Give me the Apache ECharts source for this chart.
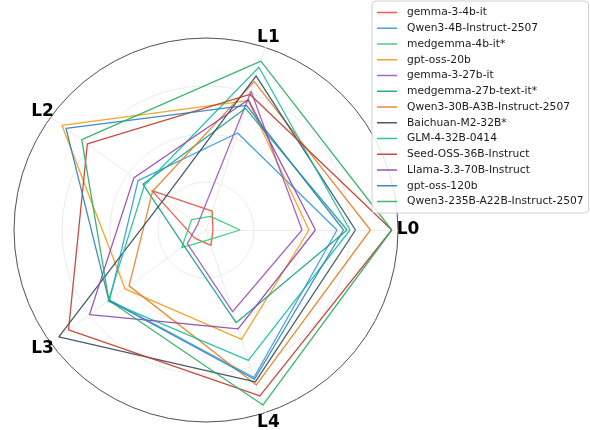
<!DOCTYPE html>
<html>
<head>
<meta charset="utf-8">
<script src="https://cdn.jsdelivr.net/npm/echarts@6/dist/echarts.min.js"></script>
<style>
  html, body { margin: 0; padding: 0; background: #fff; }
  #chart { width: 590px; height: 430px; }
</style>
</head>
<body>
<div id="chart"></div>
<script>
const axes = ['L0', 'L1', 'L2', 'L3', 'L4']

const models = [
  'gemma-3-4b-it', 'Qwen3-4B-Instruct-2507', 'medgemma-4b-it*', 'gpt-oss-20b',
  'gemma-3-27b-it', 'medgemma-27b-text-it*', 'Qwen3-30B-A3B-Instruct-2507',
  'Baichuan-M2-32B*', 'GLM-4-32B-0414', 'Seed-OSS-36B-Instruct',
  'Llama-3.3-70B-Instruct', 'gpt-oss-120b', 'Qwen3-235B-A22B-Instruct-2507'
]

// scores per model, order L0..L4
const gemma3_4b = [2.9, 8.3, 27.9, 5.8, 6.7]
const qwen3_4b = [54.6, 42.5, 35.0, 49.6, 64.6]
const medgemma_4b = [14.2, 6.0, 7.4, 12.5, 4.2]
const gptoss_20b = [42.9, 56.7, 74.2, 41.7, 47.9]
const gemma3_27b = [40.0, 60.8, 4.2, 9.6, 35.8]
const medgemma_27b = [58.8, 53.3, 32.5, 11.3, 40.6]
const qwen3_30b = [68.5, 65.0, 27.5, 39.6, 67.9]
const baichuan_32b = [62.3, 67.5, 21.7, 75.8, 66.5]
const glm4_32b = [60.0, 71.3, 31.7, 50.4, 57.1]
const seed_36b = [77.4, 59.4, 61.1, 70.8, 72.7]
const llama_70b = [45.6, 57.1, 37.1, 60.0, 43.3]
const gptoss_120b = [57.3, 54.6, 72.1, 50.0, 65.4]
const qwen3_235b = [77.4, 74.0, 64.0, 50.0, 76.7]

const scores = [gemma3_4b, qwen3_4b, medgemma_4b, gptoss_20b, gemma3_27b, medgemma_27b,
  qwen3_30b, baichuan_32b, glm4_32b, seed_36b, llama_70b, gptoss_120b, qwen3_235b]

const colors = ['#e74c3c', '#3498db', '#2ecc71', '#f39c12', '#9b59b6', '#16a085',
  '#e67e22', '#34495e', '#1abc9c', '#c0392b', '#8e44ad', '#2980b9', '#27ae60']

const chart = echarts.init(document.getElementById('chart'))

const radarBase = {
  center: [206, 230],
  radius: 192,
  startAngle: 0,
  shape: 'circle',
  axisLine: { show: false },
  splitArea: { show: false }
}

chart.setOption({
  animation: false,
  textStyle: { fontFamily: 'DejaVu Sans' },
  legend: {
    orient: 'vertical',
    left: 372,
    top: 1,
    padding: [5, 5, 5, 5],
    icon: 'rect',
    itemWidth: 20,
    itemHeight: 1.5,
    itemGap: 2.75,
    itemStyle: { opacity: 0.9 },
    textStyle: {
      fontSize: 10.7, lineHeight: 13, color: '#1a1a1a', fontFamily: 'DejaVu Sans',
      padding: [0, 0, 0, 5]
    },
    backgroundColor: 'rgba(255,255,255,0.85)',
    borderColor: '#d0d0d0',
    borderWidth: 1,
    borderRadius: 4,
    data: models
  },
  radar: [
    Object.assign({}, radarBase, {
      splitNumber: 4,
      indicator: axes.map(n => ({ name: n, min: 0, max: 80 })),
      nameGap: 10,
      axisName: {
        color: '#000', fontWeight: 'bold', fontSize: 17, fontFamily: 'DejaVu Sans',
        align: 'center', verticalAlign: 'middle'
      },
      axisLine: { show: true, lineStyle: { color: '#ebebeb', width: 1 } },
      splitLine: { lineStyle: { color: '#ebebeb', width: 1 } }
    }),
    // outer boundary circle
    Object.assign({}, radarBase, {
      splitNumber: 1,
      indicator: axes.map(() => ({ name: '', min: 0, max: 80 })),
      axisName: { show: false },
      splitLine: { lineStyle: { color: '#555', width: 1 } }
    })
  ],
  series: models.map((m, i) => ({
    name: m,
    type: 'radar',
    radarIndex: 0,
    symbol: 'none',
    lineStyle: { color: colors[i], width: 1.3, opacity: 0.9 },
    itemStyle: { color: colors[i] },
    data: [{ name: m, value: scores[i] }]
  }))
})
</script>
</body>
</html>
